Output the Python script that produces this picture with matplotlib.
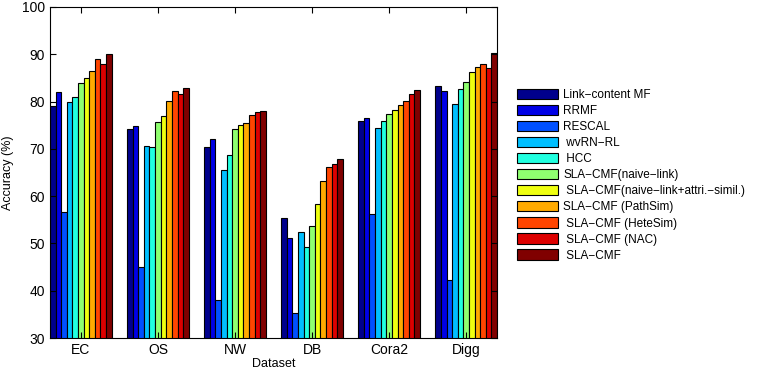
import matplotlib
matplotlib.use("Agg")
import matplotlib.pyplot as plt
import numpy as np

plt.rcParams['font.family'] = ['Liberation Sans', 'DejaVu Sans']

datasets = ["EC", "OS", "NW", "DB", "Cora2", "Digg"]
methods = ["Link\u2212content MF", "RRMF", "RESCAL", " wvRN\u2212RL", " HCC",
           "SLA\u2212CMF(naive\u2212link)", " SLA\u2212CMF(naive\u2212link+attri.\u2212simil.)",
           "SLA\u2212CMF (PathSim)", " SLA\u2212CMF (HeteSim)", " SLA\u2212CMF (NAC)", " SLA\u2212CMF"]

link_content_mf = [79.0, 74.1, 70.4, 55.3, 75.8, 83.3]
rrmf            = [82.0, 74.8, 72.1, 51.1, 76.6, 82.2]
rescal          = [56.6, 45.0, 38.0, 35.3, 56.2, 42.3]
wvrn_rl         = [80.0, 70.5, 65.5, 52.5, 74.5, 79.4]
hcc             = [81.0, 70.3, 68.8, 49.2, 75.9, 82.7]
sla_naive_link  = [84.0, 75.7, 74.3, 53.6, 77.4, 84.1]
sla_naive_attr  = [85.0, 77.0, 75.0, 58.3, 78.2, 86.2]
sla_pathsim     = [86.5, 80.1, 75.5, 63.3, 79.3, 87.3]
sla_hetesim     = [89.0, 82.2, 77.2, 66.2, 80.1, 87.9]
sla_nac         = [88.0, 81.6, 77.7, 66.7, 81.7, 87.0]
sla_cmf         = [90.1, 82.8, 78.0, 67.8, 82.5, 90.3]

series = [link_content_mf, rrmf, rescal, wvrn_rl, hcc, sla_naive_link,
          sla_naive_attr, sla_pathsim, sla_hetesim, sla_nac, sla_cmf]

colors = ["#00008C", "#0000E6", "#0050FF", "#00BFFF", "#20FFE0", "#8FFF70",
          "#EFFF10", "#FFAA00", "#FF4500", "#DD0000", "#800000"]

fig = plt.figure(figsize=(7.62, 3.74), dpi=100)
ax = fig.add_axes([50/762, 36/374, 447/762, 331/374])

x = np.arange(1, len(datasets) + 1)
n = len(series)
group_w = 0.8
bw = group_w / n
handles = []
for i, (vals, c) in enumerate(zip(series, colors)):
    offs = -group_w/2 + bw*(i + 0.5)
    b = ax.bar(x + offs, vals, width=bw, color=c, edgecolor='black',
               linewidth=0.8, bottom=0)
    handles.append(b)

ax.set_xlim(0.6, 6.4)
ax.set_ylim(30, 100)
ax.set_xticks(x)
ax.set_xticklabels(datasets)
ax.set_yticks(np.arange(30, 101, 10))
ax.tick_params(direction='in', top=True, right=True, labelsize=10, length=4)
ax.set_xlabel("Dataset", fontsize=9, labelpad=1)
ax.set_ylabel("Accuracy (%)", fontsize=9, labelpad=6)
for s in ax.spines.values():
    s.set_linewidth(0.8)

fig.legend(handles, methods, loc='upper left', bbox_to_anchor=(517/762, 1 - 89/374),
           frameon=False, fontsize=8.5, handlelength=3.5, handleheight=0.95,
           labelspacing=0.33, handletextpad=0.4, borderpad=0, borderaxespad=0)

fig.savefig("out.png", dpi=100)
